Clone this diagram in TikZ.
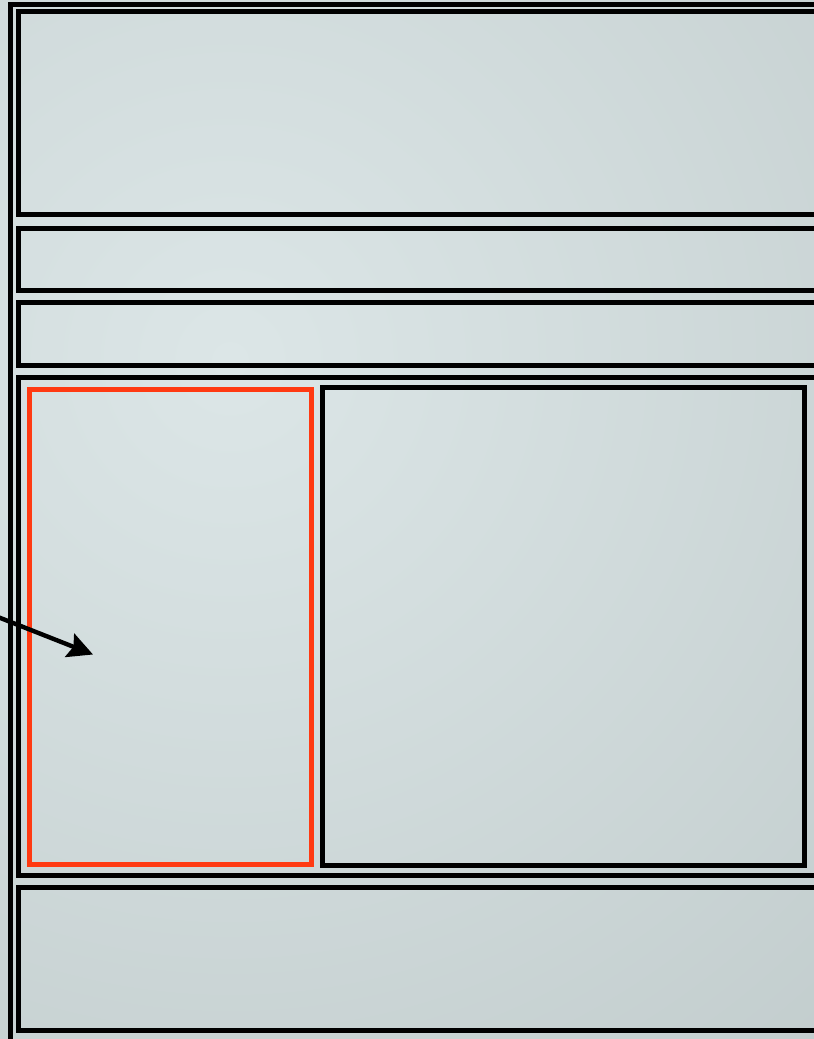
\documentclass[tikz,border=0pt]{standalone}
\definecolor{Bglight}{HTML}{DCE6E7}
\definecolor{Bgdark}{HTML}{B4BFBF}
\definecolor{Linecol}{HTML}{000000}
\definecolor{Hilite}{HTML}{FF3A12}
\usetikzlibrary{arrows.meta}
\tikzset{
    >={Stealth[length=12.5pt, width=12.5pt, inset=2pt]},
    frame/.style={draw=Linecol, line width=2.5pt},
    pick/.style={draw=Hilite, line width=2.5pt}
}

\begin{document}
\begin{tikzpicture}[x=0.5pt, y=-0.5pt]
    % Page area
    \useasboundingbox (0,0) rectangle (814,1039);
    \clip (0,0) rectangle (814,1039);
    \shade[inner color=Bglight, outer color=Bgdark] (230,360) circle (1450);

    % Wrapper
    \draw[frame] (10.5,4.5) rectangle (850,1080);

    % Header, navigation and sub navigation
    \draw[frame] (18.5,11.5) rectangle (840,214);
    \draw[frame] (18.5,228) rectangle (840,290.5);
    \draw[frame] (18.5,302.5) rectangle (840,365);

    % Content area
    \draw[frame] (18.5,377.5) rectangle (816,875);
    \draw[pick] (29.5,389.5) rectangle (311.5,864.5);
    \draw[frame] (322.5,387.5) rectangle (804.5,865);

    % Footer
    \draw[frame] (18.5,887) rectangle (840,1030.5);

    % Pointer to the sidebar
    \coordinate (pointerstart) at (-30,606);
    \coordinate (pointer) at (93,654.5);
    \draw[->, Linecol, line width=2.2pt] (pointerstart) -- (pointer);
\end{tikzpicture}
\end{document}
